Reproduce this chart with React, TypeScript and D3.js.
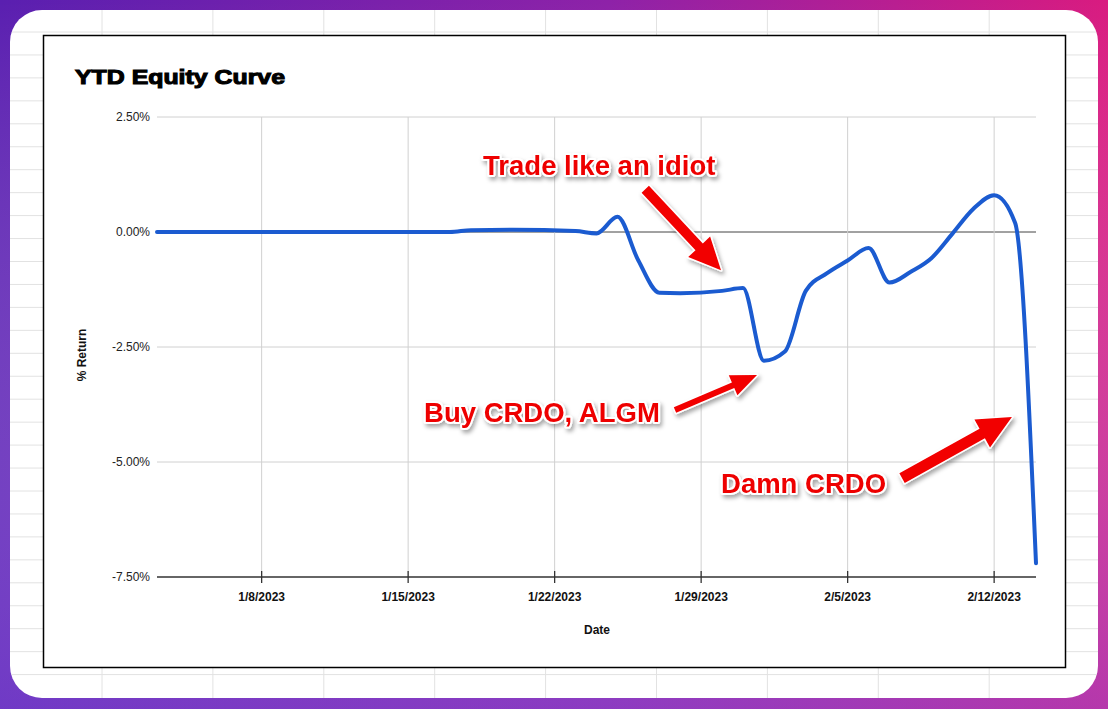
import React from "react";
import * as d3 from "d3";

const W = 1108;
const H = 709;

// ---- data ----
const dates = [
  "2023-01-03", "2023-01-06", "2023-01-09", "2023-01-12", "2023-01-16", "2023-01-17",
  "2023-01-18", "2023-01-20", "2023-01-23", "2023-01-24", "2023-01-25", "2023-01-26",
  "2023-01-27", "2023-01-28", "2023-01-30", "2023-01-31", "2023-02-01", "2023-02-02",
  "2023-02-03", "2023-02-04", "2023-02-05", "2023-02-06", "2023-02-07", "2023-02-08",
  "2023-02-09", "2023-02-10", "2023-02-11", "2023-02-12", "2023-02-13", "2023-02-14",
];
const returns = [
  0, 0, 0, 0, 0, 0.0,
  0.04, 0.05, 0.02, -0.03, 0.33, -0.62,
  -1.32, -1.33, -1.28, -1.22, -2.8, -2.6,
  -1.28, -0.9, -0.62, -0.35, -1.1, -0.87,
  -0.57, -0.04, 0.5, 0.8, 0.2, -7.2,
];
const yTicks = [2.5, 0, -2.5, -5, -7.5];
const xTickDates = ["2023-01-08", "2023-01-15", "2023-01-22", "2023-01-29", "2023-02-05", "2023-02-12"];
const xTickLabels = ["1/8/2023", "1/15/2023", "1/22/2023", "1/29/2023", "2/5/2023", "2/12/2023"];

// annotations: anchors in data space (days since start, % value)
const annoTexts = ["Trade like an idiot", "Buy CRDO, ALGM", "Damn CRDO"];
const annoTextPos = [
  [15.58, 1.24],
  [12.76, -4.13],
  [26.95, -5.67],
];
const arrowTails = [
  [23.33, 0.93],
  [24.75, -3.87],
  [35.6, -5.35],
];
const arrowTips = [
  [26.95, -0.83],
  [28.67, -3.11],
  [40.85, -4.02],
];
const arrowShaft = [10, 6, 11];
const arrowHeadLen = [32, 26, 34];
const arrowHeadWid = [30, 22, 32];

const parse = (s: string) => {
  const [y, m, d] = s.split("-").map(Number);
  return new Date(y, m - 1, d);
};
const start = parse("2023-01-03");
const end = parse("2023-02-14");
const dayToDate = (d: number) => new Date(start.getTime() + d * 864e5);

const x = d3.scaleTime().domain([start, end]).range([157, 1036]);
const y = d3.scaleLinear().domain([-7.5, 2.5]).range([577, 117]);

const points = dates.map((d, i) => ({ date: parse(d), v: returns[i] }));
const linePath = d3
  .line<{ date: Date; v: number }>()
  .x((d) => x(d.date))
  .y((d) => y(d.v))
  .curve(d3.curveMonotoneX)(points) as string;

function arrowPolygon(tail: number[], tip: number[], sw: number, hl: number, hw: number) {
  const x0 = x(dayToDate(tail[0]));
  const y0 = y(tail[1]);
  const x1 = x(dayToDate(tip[0]));
  const y1 = y(tip[1]);
  const dx = x1 - x0;
  const dy = y1 - y0;
  const len = Math.hypot(dx, dy);
  const ux = dx / len;
  const uy = dy / len;
  const nx = -uy;
  const ny = ux;
  const bx = x1 - ux * hl;
  const by = y1 - uy * hl;
  const pts = [
    [x0 + (nx * sw) / 2, y0 + (ny * sw) / 2],
    [bx + (nx * sw) / 2, by + (ny * sw) / 2],
    [bx + (nx * hw) / 2, by + (ny * hw) / 2],
    [x1, y1],
    [bx - (nx * hw) / 2, by - (ny * hw) / 2],
    [bx - (nx * sw) / 2, by - (ny * sw) / 2],
    [x0 - (nx * sw) / 2, y0 - (ny * sw) / 2],
  ];
  return pts.map((p) => p.join(",")).join(" ");
}

// spreadsheet background grid
const rowLines = d3.range(0, 29).map((i) => 32 + i * 22.95);
const colLines = d3.range(0, 9).map((i) => 102 + i * 110.9);

export default function App() {
  const font = "'Liberation Sans', Arial, Helvetica, sans-serif";
  return (
    <svg
      width={W}
      height={H}
      style={{ position: "absolute", left: 0, top: 0, display: "block" }}
      fontFamily={font}
    >
      <defs>
        <linearGradient id="bg" x1="0" y1="0" x2="1" y2="0">
          <stop offset="0" stopColor="#5a1fb0" />
          <stop offset="0.55" stopColor="#8e22a8" />
          <stop offset="1" stopColor="#d91b80" />
        </linearGradient>
        <linearGradient id="bg2" x1="0" y1="0" x2="0" y2="1">
          <stop offset="0" stopColor="#ffffff" stopOpacity="0" />
          <stop offset="1" stopColor="#8a5ae0" stopOpacity="0.45" />
        </linearGradient>
        <clipPath id="card">
          <rect x={10} y={10} width={1088} height={688} rx={32} />
        </clipPath>
        <filter id="shadow" x="-20%" y="-40%" width="140%" height="180%">
          <feDropShadow dx="2" dy="3" stdDeviation="2" floodColor="#000" floodOpacity="0.35" />
        </filter>
      </defs>

      <rect x={0} y={0} width={W} height={H} fill="url(#bg)" />
      <rect x={0} y={0} width={W} height={H} fill="url(#bg2)" />

      <rect x={10} y={10} width={1088} height={688} rx={32} fill="#ffffff" />
      <g clipPath="url(#card)" stroke="#e2e2e2" strokeWidth={1}>
        {rowLines.map((ry, i) => (
          <line key={"r" + i} x1={10} x2={1098} y1={ry} y2={ry} />
        ))}
        {colLines.map((cx, i) => (
          <line key={"c" + i} x1={cx} x2={cx} y1={10} y2={698} />
        ))}
      </g>

      {/* chart box */}
      <rect x={43.5} y={35.5} width={1022} height={632} fill="#ffffff" stroke="#000" strokeWidth={1.5} />

      <text x={75} y={84} fontSize={21} fontWeight={900} fill="#000" textLength={210} lengthAdjust="spacingAndGlyphs" stroke="#000" strokeWidth={1.1}>
        YTD Equity Curve
      </text>

      {/* gridlines */}
      <g>
        {yTicks.map((t) => (
          <line
            key={"gy" + t}
            x1={157}
            x2={1036}
            y1={y(t)}
            y2={y(t)}
            stroke={t === 0 ? "#444" : t === -7.5 ? "none" : "#d0d0d0"}
            strokeWidth={1}
          />
        ))}
        {xTickDates.map((d) => (
          <line key={"gx" + d} x1={x(parse(d))} x2={x(parse(d))} y1={y(2.5)} y2={y(-7.5)} stroke="#d0d0d0" strokeWidth={1} />
        ))}
      </g>

      {/* y labels */}
      {yTicks.map((t) => (
        <text key={"yl" + t} x={150} y={y(t) + 4} fontSize={12} fill="#222" textAnchor="end">
          {t.toFixed(2) + "%"}
        </text>
      ))}

      {/* x axis */}
      <line x1={157} x2={1036} y1={y(-7.5)} y2={y(-7.5)} stroke="#333" strokeWidth={1.5} />
      {xTickDates.map((d, i) => (
        <g key={"xt" + d}>
          <line x1={x(parse(d))} x2={x(parse(d))} y1={y(-7.5) - 6} y2={y(-7.5) + 6} stroke="#333" strokeWidth={1.3} />
          <text x={x(parse(d))} y={601} fontSize={12} fontWeight="bold" fill="#111" textAnchor="middle">
            {xTickLabels[i]}
          </text>
        </g>
      ))}
      <text x={597} y={634} fontSize={12} fontWeight="bold" fill="#111" textAnchor="middle">
        Date
      </text>
      <text
        transform={`translate(86,355) rotate(-90)`}
        fontSize={12}
        fontWeight="bold"
        fill="#111"
        textAnchor="middle"
      >
        % Return
      </text>

      {/* series */}
      <path d={linePath} fill="none" stroke="#1b5bd0" strokeWidth={4} strokeLinejoin="round" strokeLinecap="round" />

      {/* annotations */}
      <g filter="url(#shadow)">
        {arrowTails.map((t, i) => (
          <polygon
            key={"ar" + i}
            points={arrowPolygon(t, arrowTips[i], arrowShaft[i], arrowHeadLen[i], arrowHeadWid[i])}
            fill="#f20000"
            stroke="#ffffff"
            strokeWidth={3}
            strokeLinejoin="round"
            style={{ paintOrder: "stroke" }}
          />
        ))}
        {annoTexts.map((s, i) => (
          <text
            key={"at" + i}
            x={x(dayToDate(annoTextPos[i][0]))}
            y={y(annoTextPos[i][1])}
            fontSize={27.5}
            fontWeight="bold"
            fill="#ee0000"
            stroke="#ffffff"
            strokeWidth={4}
            strokeLinejoin="round"
            style={{ paintOrder: "stroke" }}
          >
            {s}
          </text>
        ))}
      </g>
    </svg>
  );
}
